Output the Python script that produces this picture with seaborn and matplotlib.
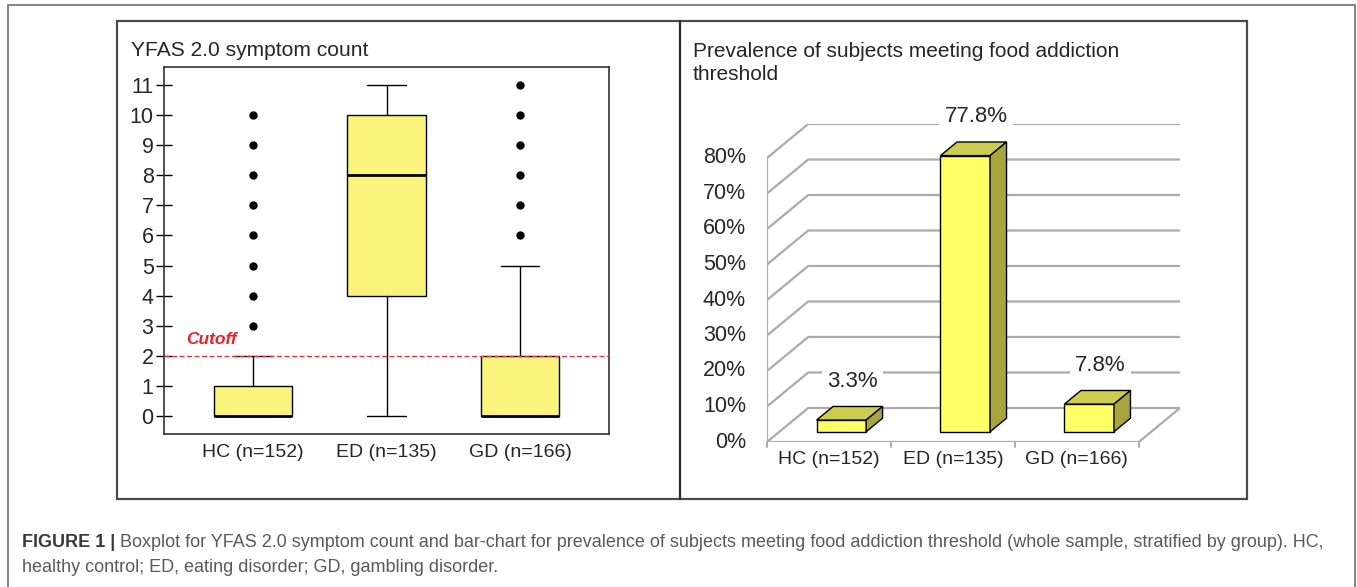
import matplotlib
matplotlib.use("Agg")
import matplotlib.pyplot as plt
from matplotlib.patches import Rectangle, Polygon
import seaborn as sns
import pandas as pd

# data
groups = ["HC (n=152)", "ED (n=135)", "GD (n=166)"]
q1 = [0, 4, 0]
med = [0, 8, 0]
q3 = [1, 10, 2]
whislo = [0, 0, 0]
whishi = [2, 11, 5]
fliers = [[3, 4, 5, 6, 7, 8, 9, 10], [], [6, 7, 8, 9, 10, 11]]
cutoff = 2
prevalence = [3.3, 77.8, 7.8]
pct_ticks = [0, 10, 20, 30, 40, 50, 60, 70, 80]

sns.set_style("white")
plt.rcParams['font.family'] = ['Liberation Sans', 'DejaVu Sans']

W, H = 1357, 587
fig = plt.figure(figsize=(W / 100, H / 100), dpi=100)

def fx(px):
    return px / W

def fy(py):
    return 1 - py / H

# frames
fig.add_artist(Rectangle((fx(8), fy(600)), fx(1355) - fx(8), fy(5) - fy(600),
                         transform=fig.transFigure, fill=False, ec="#7a7a7a", lw=1.3))
fig.add_artist(Rectangle((fx(117), fy(499)), fx(1247) - fx(117), fy(21) - fy(499),
                         transform=fig.transFigure, fill=False, ec="#4a4a4a", lw=1.6))
fig.add_artist(plt.Line2D([fx(680), fx(680)], [fy(21), fy(499)],
                          transform=fig.transFigure, color="#2a2a2a", lw=1.6))

# ---- left panel: boxplot ----
ax1 = fig.add_axes([fx(164), fy(434), fx(609) - fx(164), fy(67) - fy(434)])
stats = []
for i, g in enumerate(groups):
    stats.append(dict(label=g, q1=q1[i], med=med[i], q3=q3[i],
                      whislo=whislo[i], whishi=whishi[i], fliers=fliers[i]))
ax1.bxp(stats, positions=[0, 1, 2], widths=0.59, capwidths=0.29, patch_artist=True,
        boxprops=dict(facecolor="#FAF47C", edgecolor="black", lw=1),
        medianprops=dict(color="black", lw=2),
        whiskerprops=dict(color="black", lw=1),
        capprops=dict(color="black", lw=1),
        flierprops=dict(marker="o", markerfacecolor="black", markeredgecolor="black",
                        markersize=5))
ax1.axhline(cutoff, color="#E8303A", ls=(0, (4, 2)), lw=0.9, zorder=5)
ax1.text(-0.31, cutoff + 0.55, "Cutoff", color="#E8202A", fontsize=12.5,
         fontweight="bold", fontstyle="italic", ha="center", va="center")
ax1.set_xlim(-0.667, 2.667)
ax1.set_ylim(-0.6, 11.6)
ax1.set_yticks(range(0, 12))
ax1.set_xticks([0, 1, 2], groups)
ax1.tick_params(axis="y", direction="inout", length=11, width=1, color="black",
                labelsize=15.5, pad=2, left=True)
ax1.tick_params(axis="x", length=0, labelsize=14, pad=7)
for s in ax1.spines.values():
    s.set_color("#333333")
    s.set_linewidth(1.2)
fig.text(fx(131), fy(50), "YFAS 2.0 symptom count", fontsize=15.1, ha="left", va="center")

# ---- right panel: pseudo-3D bar chart ----
PXX = 123.3   # px per category
PXY = 3.55    # px per percent
DX, DY = 41 / PXX, 34 / PXY   # depth of the chart box
F, BD = 0.3, 0.4              # bar plane position and bar depth (fractions of depth)
ax2 = fig.add_axes([fx(767), fy(442), fx(1180) - fx(767), fy(124) - fy(442)])
grid_c = "#ABABAB"

df = pd.DataFrame({"group": groups, "prev": prevalence})
sns.barplot(data=df, x="group", y="prev", ax=ax2, width=0.4, color="#FFFF66",
            saturation=1, edgecolor="black", linewidth=1, zorder=3)

ax2.set_xlim(-0.5, 2.5 + DX)
ax2.set_ylim(0, 318 / PXY)
ax2.axis("off")

for v in pct_ticks:
    ax2.plot([-0.5, -0.5 + DX, 2.5 + DX], [v, v + DY, v + DY], color=grid_c, lw=1.6,
             zorder=1, solid_joinstyle="miter")
    ax2.plot([-0.5 - 6 / PXX, -0.5], [v, v], color=grid_c, lw=1.4, zorder=1)
    ax2.text(-0.5 - 21 / PXX, v, f"{v}%", ha="right", va="center", fontsize=15.5)
ax2.plot([-0.5, -0.5], [0, 80], color=grid_c, lw=1.6, zorder=1)
ax2.plot([-0.5, 2.5, 2.5 + DX], [0, 0, DY], color=grid_c, lw=1.6, zorder=1)
for xb in [-0.5, 0.5, 1.5, 2.5]:
    ax2.plot([xb, xb], [0, -5 / PXY], color=grid_c, lw=1.4, zorder=1, clip_on=False)
for i, g in enumerate(groups):
    ax2.text(i, -18 / PXY, g, ha="center", va="center", fontsize=14)

for i, p in enumerate(ax2.patches):
    x0 = p.get_x() + F * DX
    w = p.get_width()
    h = p.get_height()
    y0 = F * DY
    p.set_x(x0)
    p.set_y(y0)
    top = y0 + h
    ddx, ddy = BD * DX, BD * DY
    ax2.add_patch(Polygon([(x0, top), (x0 + w, top), (x0 + w + ddx, top + ddy),
                           (x0 + ddx, top + ddy)], closed=True, fc="#CCCC4E",
                          ec="black", lw=1, zorder=3))
    ax2.add_patch(Polygon([(x0 + w, y0), (x0 + w + ddx, y0 + ddy), (x0 + w + ddx, top + ddy),
                           (x0 + w, top)], closed=True, fc="#A8A43E",
                          ec="black", lw=1, zorder=3))
    ax2.text(i + 0.19, prevalence[i] + 13.8, f"{prevalence[i]}%", ha="center", va="center",
             fontsize=16, zorder=4,
             bbox=dict(boxstyle="square,pad=0.25", fc="white", ec="none"))

fig.text(fx(693), fy(63), "Prevalence of subjects meeting food addiction\nthreshold",
         fontsize=15, ha="left", va="center", linespacing=1.3)

# ---- caption ----
t1 = fig.text(fx(22), fy(547), "FIGURE 1 |", fontsize=13, fontweight="bold",
              color="#3a3a3a", ha="left", va="baseline")
ax1.annotate(" Boxplot for YFAS 2.0 symptom count and bar-chart for prevalence of subjects "
             "meeting food addiction threshold (whole sample, stratified by group). HC,",
             xy=(1, 0), xycoords=t1, va="bottom", ha="left", fontsize=13,
             color="#5a5a5a", annotation_clip=False)
fig.text(fx(22), fy(572), "healthy control; ED, eating disorder; GD, gambling disorder.",
         fontsize=13, color="#5a5a5a", ha="left", va="baseline")

fig.savefig("out.png", dpi=100)
